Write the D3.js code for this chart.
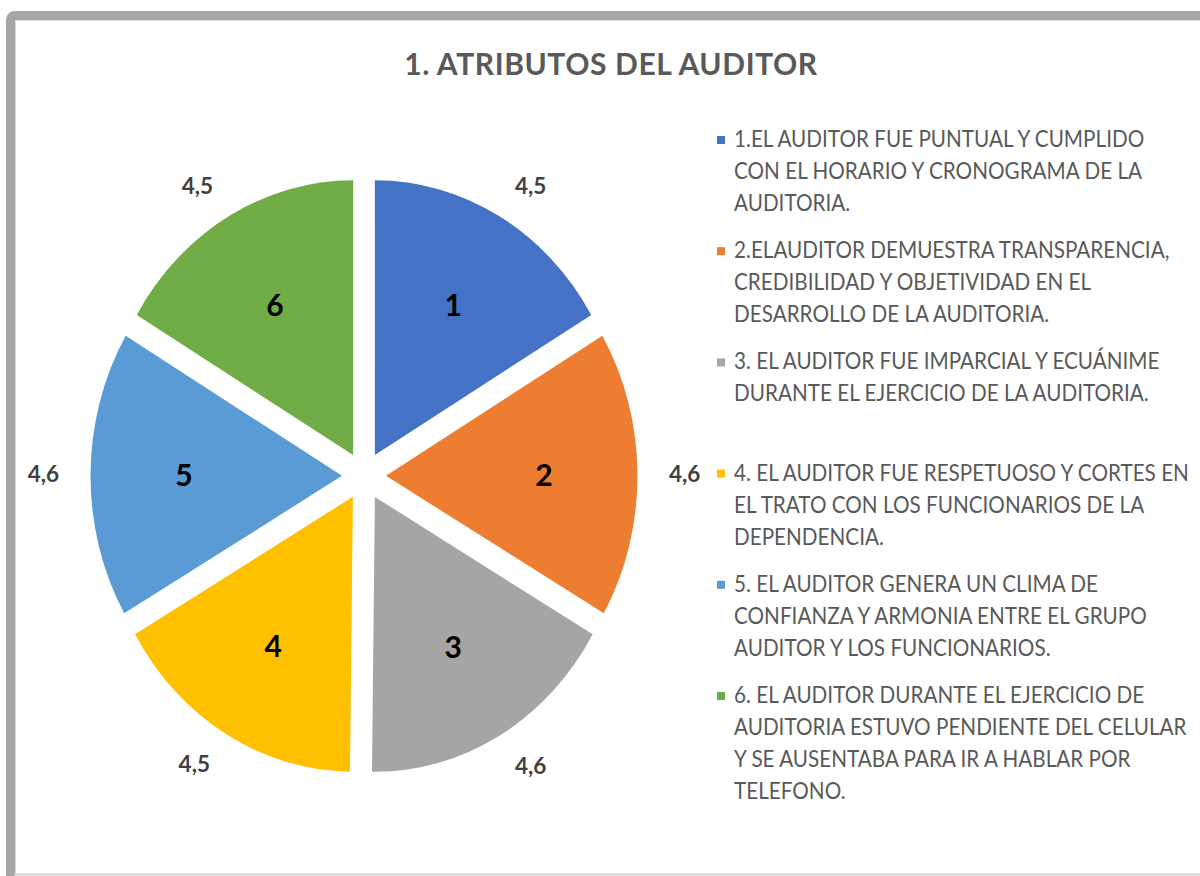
<!DOCTYPE html>
<html>
<head>
<meta charset="utf-8">
<script src="https://cdn.jsdelivr.net/npm/d3@7"></script>
<style>
  body { margin: 0; background: #fff; }
  svg { display: block; }
</style>
</head>
<body>
<div id="chart"></div>
<script>
// Pie chart: 1. ATRIBUTOS DEL AUDITOR

const sliceIds = ["1", "2", "3", "4", "5", "6"];
const values = [4.5, 4.6, 4.6, 4.5, 4.6, 4.5];
const valueLabels = ["4,5", "4,6", "4,6", "4,5", "4,6", "4,5"];
const legendLabels = [
    ["1.EL AUDITOR FUE PUNTUAL Y CUMPLIDO", "CON EL HORARIO Y CRONOGRAMA DE LA", "AUDITORIA."],
    ["2.ELAUDITOR DEMUESTRA TRANSPARENCIA,", "CREDIBILIDAD Y OBJETIVIDAD EN EL", "DESARROLLO DE LA AUDITORIA."],
    ["3. EL AUDITOR FUE IMPARCIAL Y ECUÁNIME", "DURANTE EL EJERCICIO DE LA AUDITORIA."],
    ["4. EL AUDITOR FUE RESPETUOSO Y CORTES EN", "EL TRATO CON LOS FUNCIONARIOS DE LA", "DEPENDENCIA."],
    ["5. EL AUDITOR GENERA UN CLIMA DE", "CONFIANZA Y ARMONIA ENTRE EL GRUPO", "AUDITOR Y LOS FUNCIONARIOS."],
    ["6. EL AUDITOR DURANTE EL EJERCICIO DE", "AUDITORIA ESTUVO PENDIENTE DEL CELULAR", "Y SE AUSENTABA PARA IR A HABLAR POR", "TELEFONO."]
];
const colors = ["#4472C4", "#ED7D31", "#A5A5A5", "#FFC000", "#5B9BD5", "#70AD47"];

const width = 1200, height = 876;
const cx = 364, cy = 476;
const radius = 251.5, stretchY = 1.093, explode = 22;

const svg = d3.select("#chart")
    .append("svg")
    .attr("width", width)
    .attr("height", height);

// frame of the original chart area
svg.append("path")
    .attr("d", "M10.5,880 L10.5,20 Q10.5,15.5 15,15.5 L1210,15.5")
    .attr("fill", "none")
    .attr("stroke", "#a6a6a6")
    .attr("stroke-width", 9);
svg.append("path")
    .attr("d", "M15.5,874 L15.5,20.5 L1200,20.5")
    .attr("fill", "none")
    .attr("stroke", "#d9d9d9")
    .attr("stroke-width", 1);
svg.append("line")
    .attr("x1", 14).attr("x2", 1200)
    .attr("y1", 874.5).attr("y2", 874.5)
    .attr("stroke", "#d0d0d0")
    .attr("stroke-width", 2);

// title
svg.append("text")
    .attr("x", 611)
    .attr("y", 75)
    .attr("text-anchor", "middle")
    .style("font-family", "Lato, 'Open Sans', sans-serif")
    .style("font-weight", "bold")
    .style("font-size", "30px")
    .style("letter-spacing", "0.6px")
    .style("fill", "#595959")
    .text("1. ATRIBUTOS DEL AUDITOR");

const data = sliceIds.map((id, i) => ({ id, value: values[i], label: valueLabels[i], color: colors[i] }));

const pie = d3.pie()
    .sort(null)
    .value(d => d.value);

const arc = d3.arc()
    .innerRadius(0)
    .outerRadius(radius);

const innerLabelArc = d3.arc().innerRadius(158).outerRadius(158);
const outerLabelArc = d3.arc().innerRadius(283).outerRadius(283);

const pieG = svg.append("g")
    .attr("transform", `translate(${cx},${cy}) scale(1,${stretchY})`);

const slices = pieG.selectAll("g.slice")
    .data(pie(data))
    .enter()
    .append("g")
    .attr("class", "slice")
    .attr("transform", d => {
        const mid = (d.startAngle + d.endAngle) / 2;
        return `translate(${explode * Math.sin(mid)},${-explode * Math.cos(mid)})`;
    });

slices.append("path")
    .attr("d", arc)
    .attr("fill", d => d.data.color);

// labels drawn unstretched, positioned via stretched coordinates
const labelG = svg.append("g")
    .attr("transform", `translate(${cx},${cy})`);

function shifted(d, c) {
    const mid = (d.startAngle + d.endAngle) / 2;
    return [c[0] + explode * Math.sin(mid), (c[1] - explode * Math.cos(mid)) * stretchY];
}

const midAngle = d => (d.startAngle + d.endAngle) / 2;

labelG.selectAll("text.inner")
    .data(pie(data))
    .enter()
    .append("text")
    .attr("class", "inner")
    .attr("x", d => shifted(d, innerLabelArc.centroid(d))[0])
    .attr("y", d => shifted(d, innerLabelArc.centroid(d))[1])
    .attr("text-anchor", "middle")
    .attr("dy", "0.38em")
    .style("font-family", "Lato, 'Open Sans', sans-serif")
    .style("font-weight", "bold")
    .style("font-size", "30px")
    .style("fill", "#000")
    .text(d => d.data.id);

labelG.selectAll("text.outer")
    .data(pie(data))
    .enter()
    .append("text")
    .attr("class", "outer")
    .attr("x", d => shifted(d, outerLabelArc.centroid(d))[0])
    .attr("y", d => shifted(d, outerLabelArc.centroid(d))[1])
    .attr("text-anchor", d => midAngle(d) < Math.PI ? "start" : "end")
    .attr("dy", "0.36em")
    .style("font-family", "Lato, 'Open Sans', sans-serif")
    .style("font-weight", "bold")
    .style("font-size", "22.5px")
    .style("fill", "#404040")
    .text(d => d.data.label);

// legend
const legendTop = 147, itemStep = 111.2, lineStep = 32;
const legend = svg.append("g")
    .attr("transform", `translate(717,${legendTop})`);

legendLabels.forEach((lines, i) => {
    const y0 = i * itemStep;
    legend.append("rect")
        .attr("x", 0)
        .attr("y", y0 - 11)
        .attr("width", 8)
        .attr("height", 8)
        .attr("fill", colors[i]);
    const t = legend.append("text")
        .attr("transform", `translate(17,${y0}) scale(0.92,1)`)
        .style("font-family", "Lato, 'Open Sans', sans-serif")
        .style("font-size", "22.5px")
        .style("fill", "#595959");
    lines.forEach((line, j) => {
        t.append("tspan")
            .attr("x", 0)
            .attr("y", j * lineStep)
            .text(line);
    });
});
</script>
</body>
</html>
